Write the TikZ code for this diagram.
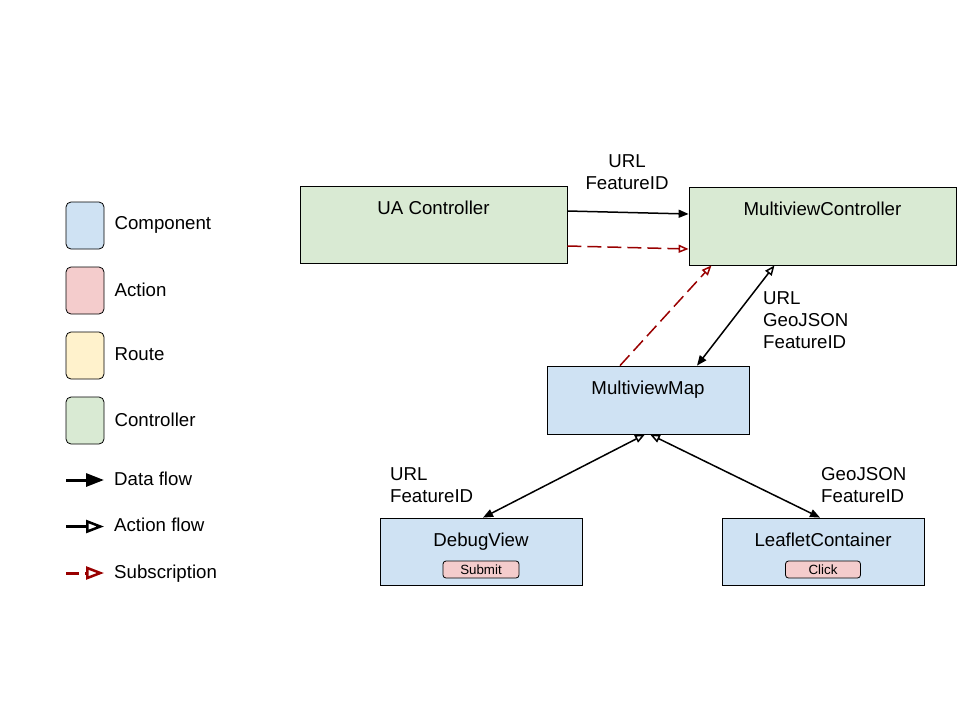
\documentclass[tikz,border=0pt]{standalone}
\usepackage{fontspec}
\setmainfont{Liberation Sans}
\usetikzlibrary{arrows.meta}
\usetikzlibrary{positioning}

\definecolor{compblue}{HTML}{CFE2F3}
\definecolor{actpink}{HTML}{F4CCCC}
\definecolor{routeyellow}{HTML}{FFF2CC}
\definecolor{ctrlgreen}{HTML}{D9EAD3}
\definecolor{subred}{RGB}{153,0,0}

\tikzset{
    box/.style={draw, line width=0.8pt, inner sep=0pt},
    title/.style={inner sep=0pt, below=15pt of #1},
    button/.style={draw, line width=0.8pt, fill=actpink, rounded corners=3pt,
        minimum width=76pt, minimum height=17pt, inner sep=0pt,
        font=\fontsize{13.33}{15}\selectfont},
    data/.style={line width=1.5pt, -{Triangle[length=10pt,width=8pt]}},
    action/.style={line width=1.5pt, {Triangle[open,length=10pt,width=8pt]}-{Triangle[length=10pt,width=8pt]}},
    sub/.style={line width=1.5pt, color=subred, dash pattern=on 14pt off 6pt,
        -{Triangle[open,length=10pt,width=8pt]}},
}

\begin{document}
\begin{tikzpicture}[x=1pt, y=-1pt, font=\fontsize{18.67}{22}\selectfont]
    \useasboundingbox (0,0) rectangle (960,720);

    % legend
    \foreach \name/\col/\txt [count=\n, evaluate=\n as \y using 225.5+65*(\n-1)]
        in {comp/compblue/Component, act/actpink/Action, route/routeyellow/Route, ctrl/ctrlgreen/Controller}{
            \node[box, fill=\col, rounded corners=5pt, minimum width=38pt, minimum height=47pt] (leg\name) at (85,\y) {};
            \node[inner sep=0pt, right=10pt of leg\name, yshift=1pt] (leg\name T) {\txt};
        }
    \foreach \name/\txt [count=\n, evaluate=\n as \y using 480+46.5*(\n-1)]
        in {data/Data flow, action/Action flow, sub/Subscription}{
            \coordinate (flow\name A) at (66,\y);
            \coordinate (flow\name B) at (104,\y);
            \node[inner sep=0pt, anchor=base west] (flow\name T) at (114,\y+5) {\txt};
        }
    \draw[line width=3pt, -{Triangle[length=18pt,width=13pt]}] (flowdataA) -- (flowdataB);
    \draw[line width=3pt, -{Triangle[open,length=18pt,width=13pt,line width=2.5pt]}] (flowactionA) -- (flowactionB);
    \draw[line width=3pt, color=subred, dash pattern=on 13pt off 6pt,
        -{Triangle[open,length=18pt,width=13pt,line width=2.5pt]}] (flowsubA) -- (flowsubB);

    % controllers
    \node[box, fill=ctrlgreen, minimum width=267pt, minimum height=77pt] (uac) at (433.5,224.5) {};
    \node[title=uac.north] (uacT) {UA Controller};
    \node[box, fill=ctrlgreen, minimum width=267pt, minimum height=78pt] (mvc) at (822.5,226) {};
    \node[title=mvc.north] (mvcT) {MultiviewController};

    % components
    \node[box, fill=compblue, minimum width=202pt, minimum height=68pt] (map) at (648,400) {};
    \node[title=map.north] (mapT) {MultiviewMap};
    \node[box, fill=compblue, minimum width=202pt, minimum height=67pt] (dbg) at (481,551.5) {};
    \node[title=dbg.north] (dbgT) {DebugView};
    \node[button, above=7pt of dbg.south] (submit) {Submit};
    \node[box, fill=compblue, minimum width=202pt, minimum height=67pt] (leaf) at (823,551.5) {};
    \node[title=leaf.north] (leafT) {LeafletContainer};
    \node[button, minimum width=75pt, above=7pt of leaf.south] (click) {Click};

    % connectors
    \draw[data] ([yshift=13.5pt]uac.east) -- ([yshift=12pt]mvc.west);
    \draw[sub] ([yshift=-21.5pt]uac.east) -- ([yshift=-23pt]mvc.west);
    \draw[sub] ([xshift=-28pt]map.north) -- ([xshift=-111pt]mvc.south);
    \draw[action] ([xshift=-48pt]mvc.south) -- ([xshift=49pt]map.north);
    \draw[action] ([xshift=-3pt]map.south) -- ([xshift=2pt]dbg.north);
    \draw[action] ([xshift=2pt]map.south) -- ([xshift=-3pt]leaf.north);

    % labels
    \node[align=center, inner sep=0pt] (lblUA) at (627,172) {URL\\FeatureID};
    \node[align=left, inner sep=0pt, anchor=west] (lblMVC) at (763,320) {URL\\GeoJSON\\FeatureID};
    \node[align=left, inner sep=0pt, anchor=west] (lblDbg) at (390,485) {URL\\FeatureID};
    \node[align=left, inner sep=0pt, anchor=west] (lblLeaf) at (821,485) {GeoJSON\\FeatureID};
\end{tikzpicture}
\end{document}
